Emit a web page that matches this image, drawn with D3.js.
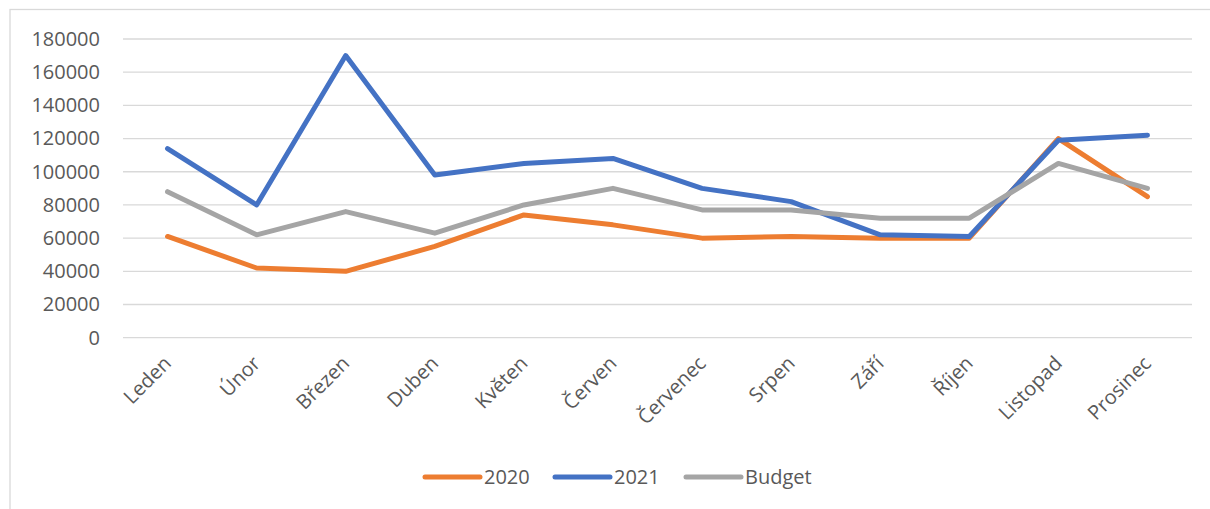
<!DOCTYPE html>
<html>
<head>
<meta charset="utf-8">
<script src="https://cdn.jsdelivr.net/npm/d3@7"></script>
<style>
  html, body { margin: 0; padding: 0; background: #fff; }
  svg { display: block; font-family: "Open Sans", "DejaVu Sans", sans-serif; }
</style>
</head>
<body>
<svg id="chart" width="1210" height="509"></svg>
<script>
// Monthly figures
const months = ["Leden", "Únor", "Březen", "Duben", "Květen", "Červen",
                "Červenec", "Srpen", "Září", "Říjen", "Listopad", "Prosinec"];
const values2020 = [61000, 42000, 40000, 55000, 74000, 68000, 60000, 61000, 60000, 60000, 120000, 85000];
const values2021 = [114000, 80000, 170000, 98000, 105000, 108000, 90000, 82000, 62000, 61000, 119000, 122000];
const valuesBudget = [88000, 62000, 76000, 63000, 80000, 90000, 77000, 77000, 72000, 72000, 105000, 90000];
const yTicks = [0, 20000, 40000, 60000, 80000, 100000, 120000, 140000, 160000, 180000];
const seriesNames = ["2020", "2021", "Budget"];

const series = [
  { name: seriesNames[0], values: values2020, color: "#ED7D31" },
  { name: seriesNames[1], values: values2021, color: "#4472C4" },
  { name: seriesNames[2], values: valuesBudget, color: "#A5A5A5" }
];

const svg = d3.select("#chart");
const plot = { left: 123, right: 1192, top: 39, bottom: 337.7 };
const textColor = "#595959";

// chart frame
svg.append("rect")
  .attr("x", 10).attr("y", 9.5)
  .attr("width", 1220).attr("height", 520)
  .attr("fill", "none").attr("stroke", "#D9D9D9").attr("stroke-width", 1.3);

const x = d3.scaleBand().domain(months).range([plot.left, plot.right]);
const y = d3.scaleLinear().domain([0, 180000]).range([plot.bottom, plot.top]);

// gridlines
svg.append("g").selectAll("line").data(yTicks).join("line")
  .attr("x1", plot.left).attr("x2", plot.right)
  .attr("y1", d => y(d)).attr("y2", d => y(d))
  .attr("stroke", "#D9D9D9").attr("stroke-width", 1.3);

// y axis labels
const yAxis = d3.axisLeft(y).tickValues(yTicks).tickSize(0).tickPadding(0).tickFormat(d3.format("d"));
const gy = svg.append("g").attr("transform", `translate(100,0)`).call(yAxis);
gy.select(".domain").remove();
gy.selectAll("text").attr("fill", textColor).style("font-size", "20px")
  .style("font-family", "'Open Sans', sans-serif");

// x axis labels, rotated
const xAxis = d3.axisBottom(x).tickSize(0).tickPadding(0);
const gx = svg.append("g").attr("transform", `translate(0,${plot.bottom})`).call(xAxis);
gx.select(".domain").remove();
gx.selectAll("text")
  .attr("fill", textColor).style("font-size", "20px")
  .style("font-family", "'Open Sans', sans-serif")
  .attr("text-anchor", "end")
  .attr("dy", "0.35em")
  .attr("transform", "translate(0,22) rotate(-45)");

// series lines
const line = d3.line()
  .x((d, i) => x(months[i]) + x.bandwidth() / 2)
  .y(d => y(d));

svg.append("g").selectAll("path").data(series).join("path")
  .attr("d", d => line(d.values))
  .attr("fill", "none")
  .attr("stroke", d => d.color)
  .attr("stroke-width", 5)
  .attr("stroke-linejoin", "round")
  .attr("stroke-linecap", "round");

// legend
const legendItems = [
  { x: 425, textX: 484 },
  { x: 555, textX: 614 },
  { x: 686, textX: 745 }
];
const legend = svg.append("g");
series.forEach((s, i) => {
  const it = legendItems[i];
  legend.append("line")
    .attr("x1", it.x).attr("x2", it.x + 55)
    .attr("y1", 477).attr("y2", 477)
    .attr("stroke", s.color).attr("stroke-width", 5).attr("stroke-linecap", "round");
  legend.append("text")
    .attr("x", it.textX).attr("y", 477).attr("dy", "0.35em")
    .attr("fill", textColor).style("font-size", "20px")
    .text(s.name);
});
</script>
</body>
</html>
